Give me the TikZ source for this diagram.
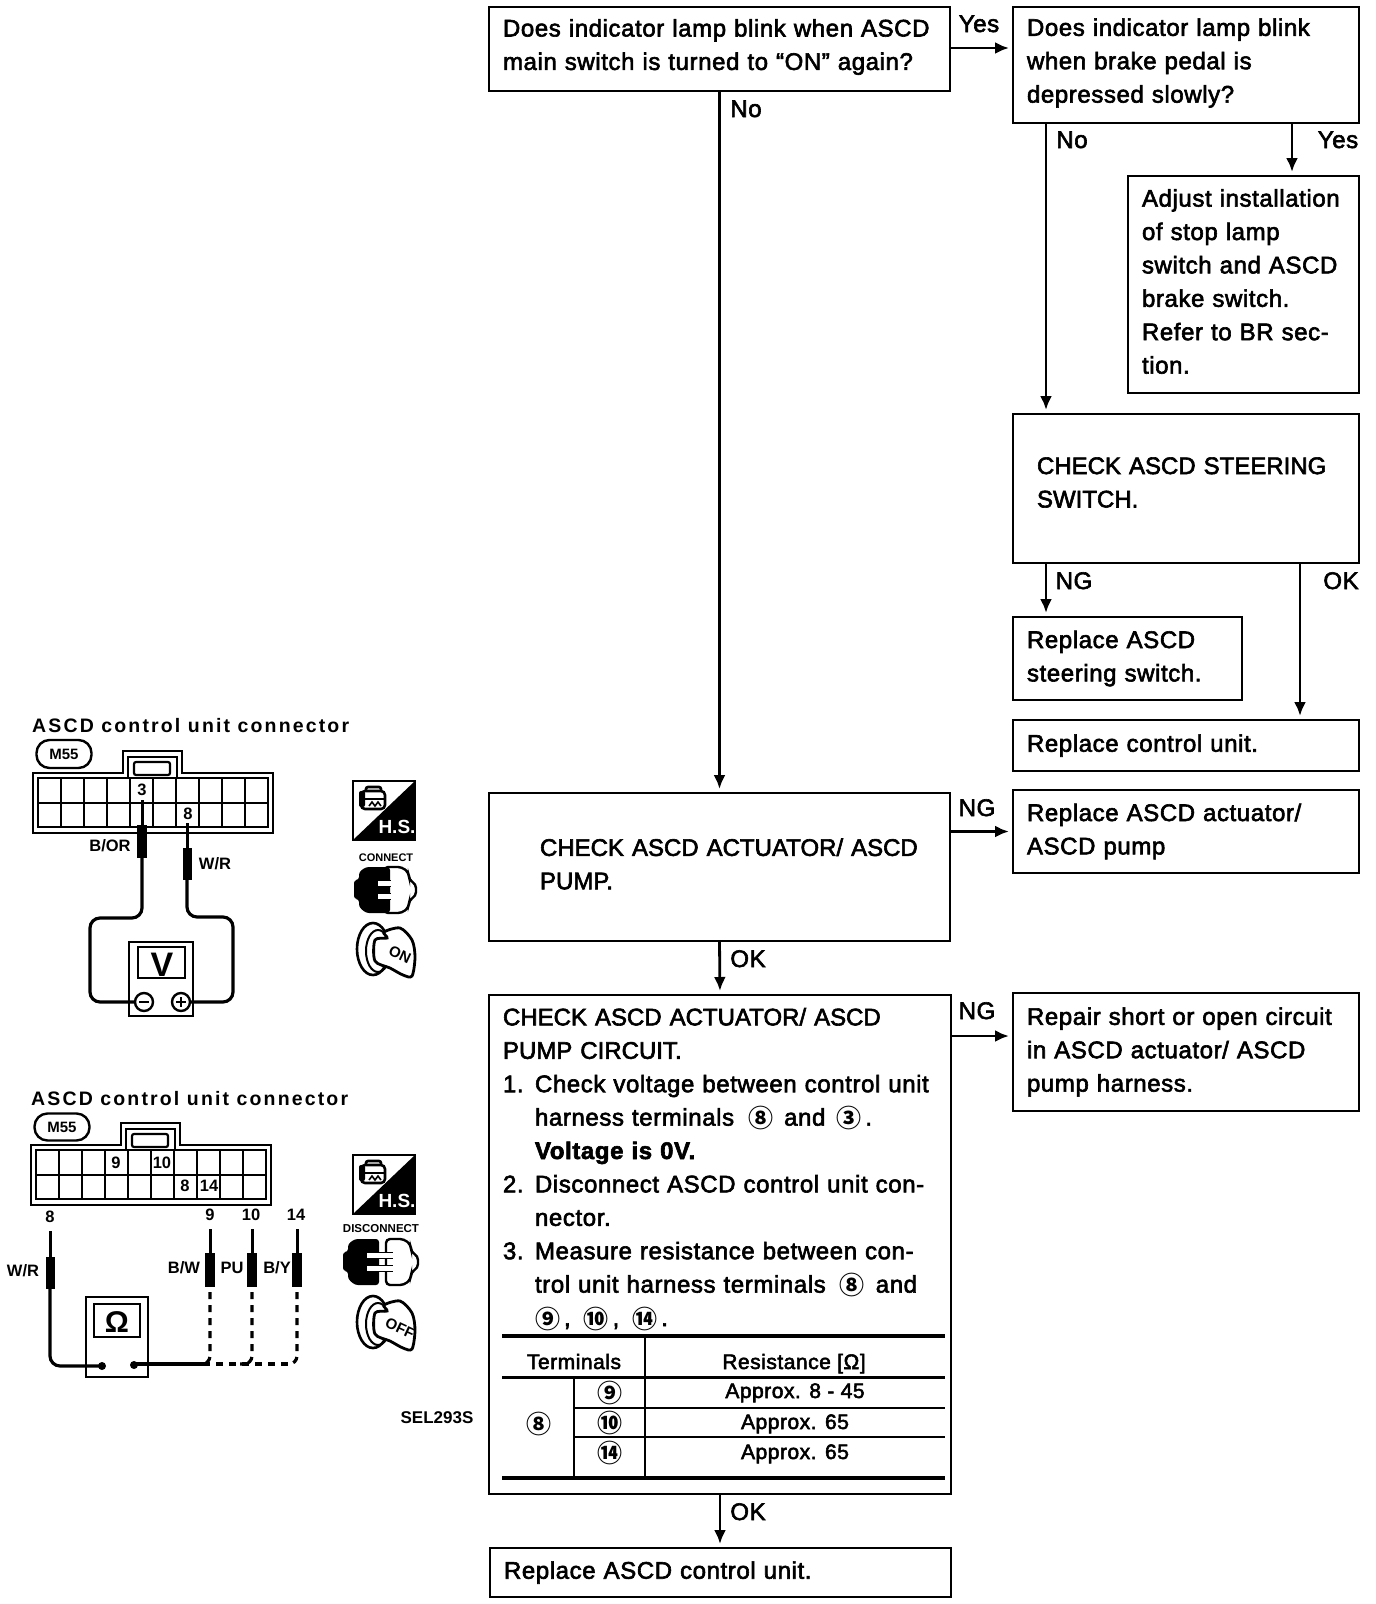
\documentclass[tikz,border=0pt]{standalone}
\usepackage{fontspec}
\usetikzlibrary{arrows.meta}
\setmainfont{Liberation Sans}
\newfontfamily\flowfont{Liberation Sans}[LetterSpace=2.5,FakeBold=2.5]
\newfontfamily\titlefont{Liberation Sans}[LetterSpace=11]
\newfontfamily\circfont{Noto Sans CJK SC}
\newcommand{\cnum}[1]{\raisebox{-2pt}{\circfont\bfseries\fontsize{25}{25}\selectfont #1}}
\newcommand{\numline}[1]{\makebox[32pt][l]{#1}}
\newcommand{\capline}[1]{{\addfontfeature{LetterSpace=0}#1}}
\newcommand{\lifttext}[1]{\par\nointerlineskip\rule{0pt}{#1}}
\tikzset{
	box/.style={draw,line width=2.8pt,anchor=north west,outer sep=0pt,inner xsep=14pt,inner ysep=0pt,align=left,font=\flowfont\fontsize{24}{33.4}\selectfont},
	flow/.style={line width=2.8pt,-{Latex[length=14pt,width=12pt]},shorten >=4pt},
	answer/.style={anchor=base,inner sep=0pt,font=\flowfont\fontsize{24}{24}\selectfont},
	cell/.style={inner sep=0pt,anchor=base,font=\flowfont\fontsize{21}{21}\selectfont},
	tag/.style={inner sep=0pt,font=\bfseries\fontsize{16.5}{16.5}\selectfont},
	heading/.style={anchor=base west,inner sep=0pt,font=\titlefont\bfseries\fontsize{19.5}{19.5}\selectfont},
	wire/.style={line width=3.2pt,rounded corners=10pt},
	pics/connbody/.style={code={
		\draw[line width=2.4pt] (0,0)--(90,0)--(90,-22)--(149,-22)--(149,0)--(240,0)--(240,60)--(0,60)--cycle;
		\draw[line width=2.2pt] (5,5) rectangle (235,54);
		\draw[line width=2.2pt] (5,30)--(235,30);
		\foreach \col in {1,...,9}
			\draw[line width=2.2pt] ({5+23*\col},5)--({5+23*\col},54);
		\draw[line width=2.2pt] (95,5)--(95,-16)--(144,-16)--(144,5);
		\draw[line width=2.2pt,rounded corners=2pt] (101,-11) rectangle (137,2);
	}},
	pics/hsicon/.style={code={
		\draw[line width=2.4pt] (0,0) rectangle (62,59);
		\fill (0,59)--(62,0)--(62,59)--cycle;
		% little car
		\draw[line width=2.6pt,rounded corners=4pt] (8,10) rectangle (32,28);
		\draw[line width=2.4pt] (8,18)--(32,18);
		\fill[rounded corners=2pt] (6,10) rectangle (12,26);
		\draw[line width=2.6pt,rounded corners=2pt] (13,10)--(13,6)--(28,6)--(28,10);
		\draw[line width=1.6pt] (16,25)--(19,21)--(22,25)--(25,21)--(28,25);
		\node[text=white,font=\bfseries\fontsize{19}{19}\selectfont,inner sep=0pt] (-hs) at (44,46) {H.S.};
	}},
	pics/plugicon/.style={code={
		\draw[fill=white,line width=2.4pt,rounded corners=4pt] (30+#1,1)--(48+#1,1)--(55+#1,7)--(55+#1,14)--(62+#1,18)--(62+#1,30)--(55+#1,34)--(55+#1,41)--(48+#1,47)--(30+#1,47)--cycle;
		\fill[rounded corners=3pt] (0,14)--(5,14)--(5,6)--(12,1)--(36,1)--(36,47)--(12,47)--(5,41)--(5,33)--(0,33)--cycle;
		\fill[white] (24,15) rectangle (37+#1,20);
		\fill[white] (24,28) rectangle (37+#1,33);
		\draw[line width=1.6pt] (36,14.5)--(37+#1,14.5);
		\draw[line width=1.6pt] (36,20.5)--(37+#1,20.5);
		\draw[line width=1.6pt] (36,27.5)--(37+#1,27.5);
		\draw[line width=1.6pt] (36,33.5)--(37+#1,33.5);
	}},
	pics/keyicon/.style={code={
		\draw[line width=2.6pt] (16,27) ellipse (16 and 26);
		\draw[line width=2pt] (21,29) ellipse (12 and 21);
		\draw[line width=2.8pt,fill=white] plot[smooth cycle,tension=0.5] coordinates {(18,18) (30,16) (27,10) (43,6) (55,18) (58,35) (55,54) (46,53) (33,46) (18,39)};
		\node[rotate=-25,font=\bfseries\fontsize{15}{15}\selectfont,inner sep=0pt] (-word) at (43,33) {#1};
	}}
}
\begin{document}
\begin{tikzpicture}[x=1pt,y=-1pt]
	\useasboundingbox (0,0) rectangle (1376,1604);

	% flow chart boxes
	\node[box,minimum width=461pt,minimum height=84pt,text width=433pt] (lampmain) at (489,7) {Does indicator lamp blink when ASCD\\main switch is turned to “ON” again?\lifttext{4pt}};
	\node[box,minimum width=346pt,minimum height=116pt,text width=318pt] (lampbrake) at (1013,7) {Does indicator lamp blink\\when brake pedal is\\depressed slowly?\lifttext{4pt}};
	\node[box,minimum width=231pt,minimum height=217pt,text width=203pt] (adjust) at (1128,176) {Adjust installation\\of stop lamp\\switch and ASCD\\brake switch.\\Refer to BR sec-\\tion.\lifttext{6pt}};
	\node[box,minimum width=346pt,minimum height=149pt,text width=318pt] (steercheck) at (1013,414) {\hspace*{10pt}\capline{CHECK ASCD STEERING}\\\hspace*{10pt}\capline{SWITCH.}\lifttext{12pt}};
	\node[box,minimum width=229pt,minimum height=83pt,text width=201pt] (steerswap) at (1013,617) {Replace ASCD\\steering switch.};
	\node[box,minimum width=346pt,minimum height=51pt,text width=318pt] (unitswap) at (1013,720) {Replace control unit.};
	\node[box,minimum width=346pt,minimum height=83pt,text width=318pt] (pumpswap) at (1013,790) {Replace ASCD actuator/\\ASCD pump};
	\node[box,minimum width=461pt,minimum height=148pt,text width=433pt] (pumpcheck) at (489,793) {\hspace*{37pt}\capline{CHECK ASCD ACTUATOR/ ASCD}\\\hspace*{37pt}\capline{PUMP.}\lifttext{6pt}};
	\node[box,minimum width=462pt,minimum height=499pt,text width=434pt] (circuitcheck) at (489,995) {};
	\node[box,minimum width=346pt,minimum height=118pt,text width=318pt] (repair) at (1013,993) {Repair short or open circuit\\in ASCD actuator/ ASCD\\pump harness.};
	\node[box,minimum width=461pt,minimum height=49pt,text width=433pt] (unitfinal) at (490,1548) {Replace ASCD control unit.};

	\node[box,draw=none,minimum width=0pt,text width=434pt] (circuitsteps) at (489,1008) {\capline{CHECK ASCD ACTUATOR/ ASCD}\\\capline{PUMP CIRCUIT.}\\
		\numline{1.}Check voltage between control unit\\
		\hspace*{32pt}harness terminals\hspace{6pt} \cnum{⑧}\hspace{3pt} and\hspace{3pt} \cnum{③}\,.\\
		\hspace*{32pt}{\bfseries Voltage is 0V.}\\
		\numline{2.}Disconnect ASCD control unit con-\\
		\hspace*{32pt}nector.\\
		\numline{3.}Measure resistance between con-\\
		\hspace*{32pt}trol unit harness terminals\hspace{6pt} \cnum{⑧}\hspace{3pt} and\\
		\hspace*{32pt}\cnum{⑨}\,,\hspace{5pt} \cnum{⑩}\,,\hspace{5pt} \cnum{⑭}\,.};

	% resistance table
	\draw[line width=4pt] (502,1336)--(945,1336);
	\draw[line width=3pt] (502,1377)--(945,1377);
	\draw[line width=2pt] (574,1408)--(945,1408);
	\draw[line width=2pt] (574,1437)--(945,1437);
	\draw[line width=4pt] (502,1478)--(945,1478);
	\draw[line width=2pt] (574,1377)--(574,1478);
	\draw[line width=2pt] (645,1336)--(645,1478);
	\node[cell] (termhead) at (574,1369) {Terminals};
	\node[cell] (reshead) at (794,1369) {Resistance [Ω]};
	\node[inner sep=0pt] (termeight) at (539,1424) {\cnum{⑧}};
	\node[inner sep=0pt] (termnine) at (610,1393) {\cnum{⑨}};
	\node[inner sep=0pt] (termten) at (610,1423) {\cnum{⑩}};
	\node[inner sep=0pt] (termfourteen) at (610,1453) {\cnum{⑭}};
	\node[cell] (resnine) at (795,1398) {Approx. 8 - 45};
	\node[cell] (resten) at (795,1429) {Approx. 65};
	\node[cell] (resfourteen) at (795,1459) {Approx. 65};

	% arrows between boxes
	\draw[flow] (lampmain.east |- 0,48)--(lampbrake.west |- 0,48);
	\draw[flow] (lampmain.south)--(pumpcheck.north);
	\draw[flow] ([xshift=-140]lampbrake.south)--([xshift=-140]steercheck.north);
	\draw[flow] ([xshift=106]lampbrake.south)--([xshift=106]lampbrake.south |- adjust.north);
	\draw[flow] ([xshift=-140]steercheck.south)--([xshift=-140]steercheck.south |- steerswap.north);
	\draw[flow] ([xshift=114]steercheck.south)--([xshift=114]unitswap.north);
	\draw[flow] (pumpcheck.east |- pumpswap.west)--(pumpswap.west);
	\draw[flow] (pumpcheck.south)--(circuitcheck.north);
	\draw[flow] (circuitcheck.east |- 0,1036)--(repair.west |- 0,1036);
	\draw[flow] (circuitcheck.south)--(circuitcheck.south |- unitfinal.north);

	\node[answer] (yesmain) at (979,32) {Yes};
	\node[answer] (nomain) at (746,117) {No};
	\node[answer] (nobrake) at (1072,148) {No};
	\node[answer] (yesbrake) at (1338,148) {Yes};
	\node[answer] (ngsteer) at (1074,589) {NG};
	\node[answer] (oksteer) at (1341,589) {OK};
	\node[answer] (ngpump) at (977,816) {NG};
	\node[answer] (okpump) at (748,967) {OK};
	\node[answer] (ngcircuit) at (977,1019) {NG};
	\node[answer] (okcircuit) at (748,1520) {OK};

	% upper connector, voltage check
	\node[heading] (conntitlea) at (32,732) {ASCD control unit connector};
	\node[draw,line width=2.4pt,rounded corners=13pt,minimum width=55pt,minimum height=28pt,inner sep=0pt,font=\bfseries\fontsize{15}{15}\selectfont] (ideala) at (64,754) {M55};
	\pic at (33,773) {connbody};
	\node[tag] (pinthree) at (142,790) {3};
	\node[tag] (pineight) at (188,814) {8};
	\draw[line width=3pt] (142,800)--(142,825);
	\draw[line width=10pt] (142,825)--(142,858);
	\draw[line width=3pt] (187,823)--(187,848);
	\draw[line width=9pt] (187,848)--(187,880);
	\node[tag] (wirebor) at (110,846) {B/OR};
	\node[tag] (wirewra) at (215,864) {W/R};
	\draw[wire] (142,858)--(142,918)--(90,918)--(90,1002)--(135,1002);
	\draw[wire] (187,880)--(187,917)--(233,917)--(233,1002)--(190,1002);
	\draw[line width=2.4pt] (129,942) rectangle (193,1016);
	\draw[line width=2.4pt] (138,947) rectangle (185,978);
	\node[inner sep=0pt,font=\bfseries\fontsize{34}{34}\selectfont] (voltmark) at (162,965) {V};
	\draw[line width=2.4pt] (144,1002) circle (9pt);
	\draw[line width=2.4pt] (181,1002) circle (9pt);
	\draw[line width=2.4pt] (139,1002)--(149,1002);
	\draw[line width=2.4pt] (176,1002)--(186,1002);
	\draw[line width=2.4pt] (181,997)--(181,1007);
	\pic (hsa) at (353,781) {hsicon};
	\node[tag,font=\bfseries\fontsize{11}{11}\selectfont] (connectword) at (386,858) {CONNECT};
	\pic at (354,866) {plugicon=0};
	\pic (keya) at (357,922) {keyicon=ON};

	% lower connector, resistance check
	\node[heading] (conntitleb) at (31,1105) {ASCD control unit connector};
	\node[draw,line width=2.4pt,rounded corners=13pt,minimum width=55pt,minimum height=27pt,inner sep=0pt,font=\bfseries\fontsize{15}{15}\selectfont] (idealb) at (62,1127) {M55};
	\pic at (31,1145) {connbody};
	\node[tag] (socketnine) at (116,1163) {9};
	\node[tag] (socketten) at (162,1163) {10};
	\node[tag] (socketeight) at (185,1186) {8};
	\node[tag] (socketfourteen) at (209,1186) {14};
	\node[tag] (leadeight) at (50,1217) {8};
	\node[tag] (leadnine) at (210,1215) {9};
	\node[tag] (leadten) at (251,1215) {10};
	\node[tag] (leadfourteen) at (296,1215) {14};
	\draw[line width=3pt] (50,1231)--(50,1257);
	\draw[line width=9pt] (50,1257)--(50,1289);
	\draw[wire] (50,1289)--(50,1366)--(102,1366);
	\foreach \px in {210,252,297} {
		\draw[line width=3pt] (\px,1229)--(\px,1253);
		\draw[line width=10pt] (\px,1253)--(\px,1287);
		\draw[line width=3.2pt,dash pattern=on 7pt off 6pt,rounded corners=8pt] (\px,1292)--(\px,1364)--(\px-12,1364);
	}
	\draw[line width=3.2pt] (134,1364)--(203,1364);
	\draw[line width=3.2pt,dash pattern=on 7pt off 6pt] (203,1364)--(293,1364);
	\draw[line width=2.4pt] (86,1297) rectangle (148,1377);
	\draw[line width=2.4pt] (94,1304) rectangle (140,1337);
	\node[inner sep=0pt,font=\bfseries\fontsize{30}{30}\selectfont] (ohmmark) at (117,1322) {Ω};
	\fill (102,1366) circle (4pt);
	\fill (134,1365) circle (4pt);
	\node[tag] (wirewrb) at (23,1271) {W/R};
	\node[tag] (wirebw) at (184,1268) {B/W};
	\node[tag] (wirepu) at (232,1268) {PU};
	\node[tag] (wireby) at (277,1268) {B/Y};
	\pic (hsb) at (353,1155) {hsicon};
	\node[tag,font=\bfseries\fontsize{11.5}{11.5}\selectfont] (disconnectword) at (381,1229) {DISCONNECT};
	\pic at (343,1238) {plugicon=13};
	\pic (keyb) at (357,1295) {keyicon=OFF};
	\node[tag,font=\bfseries\fontsize{17}{17}\selectfont] (figcode) at (437,1418) {SEL293S};
\end{tikzpicture}
\end{document}
